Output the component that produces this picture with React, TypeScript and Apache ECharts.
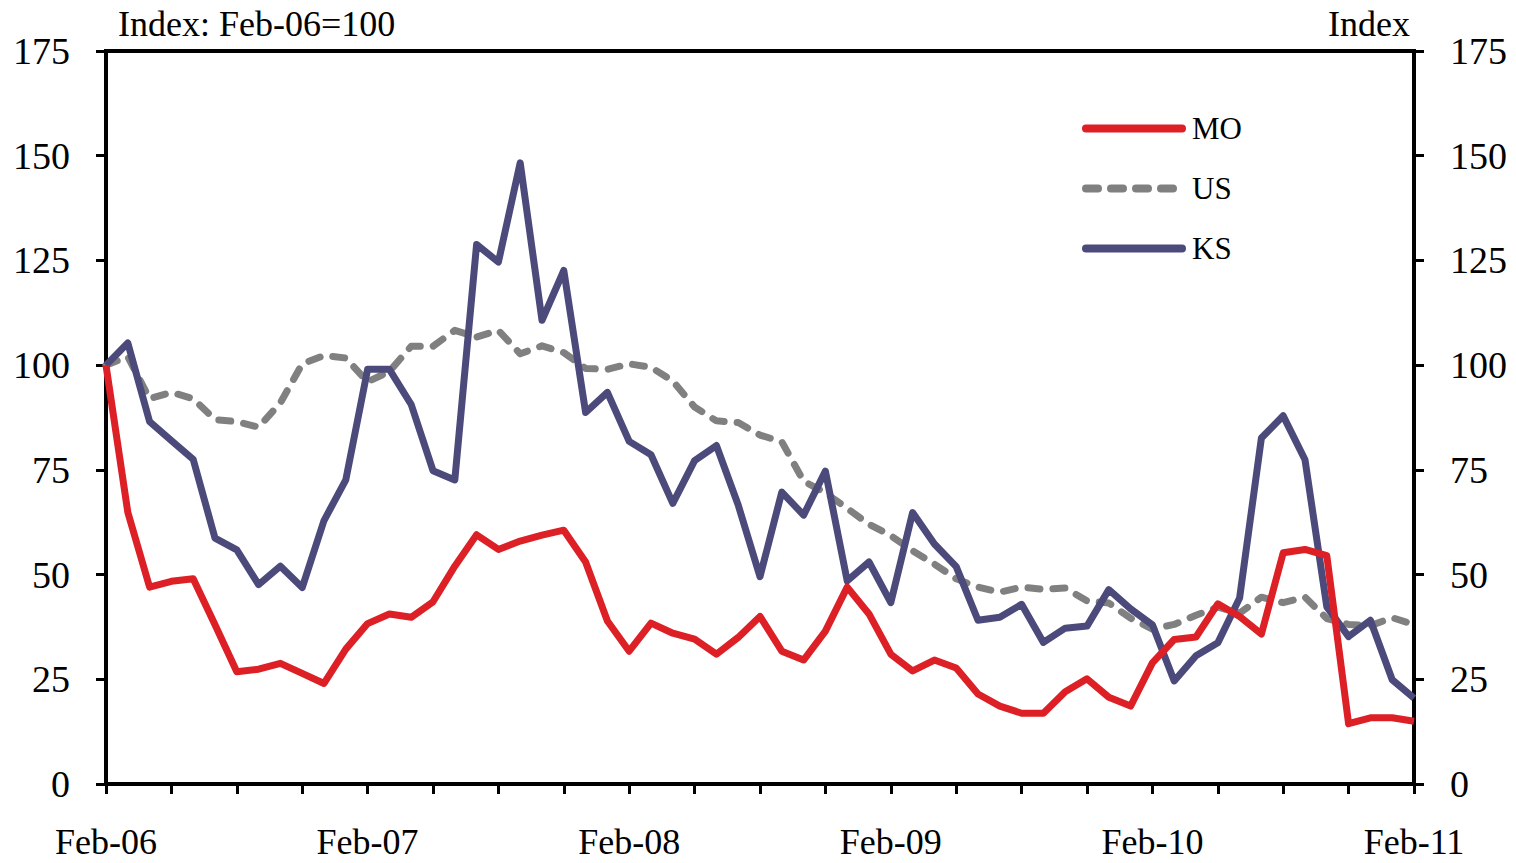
import React, { useEffect, useRef } from "react";
import * as echarts from "echarts";

const MONTHS = ["Jan", "Feb", "Mar", "Apr", "May", "Jun", "Jul", "Aug", "Sep", "Oct", "Nov", "Dec"];
const categories: string[] = [];
for (let i = 0; i < 61; i++) {
  const m = (1 + i) % 12;
  const y = 6 + Math.floor((1 + i) / 12);
  categories.push(`${MONTHS[m]}-${String(y).padStart(2, "0")}`);
}

const moValues = [
  100, 64.9, 47, 48.4, 49, 38, 26.8, 27.4, 28.8, 26.4, 24, 32.2,
  38.3, 40.6, 39.8, 43.5, 52, 59.5, 56, 58, 59.4, 60.6, 53, 38.9,
  31.7, 38.4, 36, 34.6, 31, 35, 40, 31.7, 29.6, 36.5, 47, 40.6,
  31, 27, 29.6, 27.7, 21.5, 18.6, 16.9, 16.9, 22, 25.1, 20.7, 18.6,
  28.9, 34.5, 35.1, 43, 40, 35.8, 55.2, 56, 54.5, 14.4, 15.8, 15.8,
  15,
];
const usValues = [
  100, 102, 92, 93.5, 92, 87, 86.5, 85.2, 91, 100.3, 102.3, 101.7,
  96, 98.5, 104.5, 104.5, 108.3, 106.7, 108.3, 102.7, 104.6, 103, 99.2, 99,
  100.3, 99.5, 96.2, 90, 86.7, 86.3, 83.3, 81.7, 72.3, 69.5, 65.8, 62,
  59.3, 55.7, 52.5, 49, 47, 45.8, 47, 46.5, 46.8, 43.7, 43.2, 39.6,
  37, 38.1, 40.3, 42.2, 40.8, 44.6, 43.3, 44.6, 39.5, 38.1, 37.8, 39.7,
  38.1,
];
const ksValues = [
  100, 105.3, 86.5, 82, 77.5, 58.7, 55.9, 47.6, 52, 46.9, 62.9, 72.6,
  99, 99, 90.6, 74.8, 72.6, 128.8, 124.6, 148.3, 110.7, 122.6, 88.7, 93.5,
  81.8, 78.6, 67, 77.2, 80.8, 66.6, 49.5, 69.7, 64.2, 74.7, 48.5, 53,
  43.3, 64.8, 57.3, 51.9, 39.1, 39.8, 42.9, 33.8, 37.2, 37.7, 46.4, 41.8,
  38, 24.6, 30.6, 33.7, 44.4, 82.6, 87.9, 77.4, 42.3, 35.2, 39.1, 24.9,
  20.5,
];

const seriesNames = ["MO", "US", "KS"];
const FONT = '"Liberation Serif", "Times New Roman", serif';

export default function App() {
  const ref = useRef<HTMLDivElement>(null);
  useEffect(() => {
    if (!ref.current) return;
    const chart = echarts.init(ref.current, null, { renderer: "svg" });
    const yAxisCommon = {
      type: "value" as const,
      min: 0,
      max: 175,
      interval: 25,
      splitLine: { show: false },
      axisLine: { show: true, lineStyle: { color: "#000", width: 4 } },
      axisTick: { show: true, length: 10, lineStyle: { color: "#000", width: 3 } },
      axisLabel: { color: "#000", fontFamily: FONT, fontSize: 38, margin: 36 },
    };
    chart.setOption({
      animation: false,
      backgroundColor: "#fff",
      grid: {
        left: 106,
        right: 102,
        top: 51,
        bottom: 79,
        show: true,
        borderColor: "#000",
        borderWidth: 4,
        backgroundColor: "transparent",
      },
      legend: {
        data: seriesNames,
        orient: "vertical",
        left: 1077,
        top: 108,
        itemWidth: 96,
        itemHeight: 16,
        itemGap: 29,
        itemStyle: { opacity: 0 },
        lineStyle: { width: 8, cap: "round" },
        textStyle: { color: "#000", fontFamily: FONT, fontSize: 31, padding: [8, 0, 0, 5] },
        selectedMode: false,
      },
      xAxis: {
        type: "category",
        data: categories,
        boundaryGap: false,
        axisLine: { show: true, lineStyle: { color: "#000", width: 4 } },
        axisTick: {
          show: true,
          length: 10,
          interval: (i: number) => i % 3 === 0,
          lineStyle: { color: "#000", width: 3 },
        },
        axisLabel: {
          color: "#000",
          fontFamily: FONT,
          fontSize: 36,
          lineHeight: 32,
          margin: 42,
          interval: (i: number) => i % 12 === 0,
          showMaxLabel: true,
        },
        splitLine: { show: false },
      },
      yAxis: [
        { ...yAxisCommon, position: "left" },
        { ...yAxisCommon, position: "right" },
      ],
      graphic: [
        {
          type: "text",
          left: 118,
          top: 6,
          style: { text: "Index: Feb-06=100", font: `36px ${FONT}`, fill: "#000" },
        },
        {
          type: "text",
          right: 106,
          top: 6,
          style: { text: "Index", font: `36px ${FONT}`, fill: "#000" },
        },
      ],
      series: [
        {
          name: "US",
          type: "line",
          data: usValues,
          symbol: "none",
          lineStyle: { color: "#808080", width: 7, type: [12, 13], cap: "round", join: "round" },
          itemStyle: { color: "#808080" },
          z: 2,
        },
        {
          name: "KS",
          type: "line",
          data: ksValues,
          symbol: "none",
          lineStyle: { color: "#4B4A7B", width: 7, join: "round" },
          itemStyle: { color: "#4B4A7B" },
          z: 3,
        },
        {
          name: "MO",
          type: "line",
          data: moValues,
          symbol: "none",
          lineStyle: { color: "#DD1F26", width: 7, join: "round" },
          itemStyle: { color: "#DD1F26" },
          z: 4,
        },
      ],
    });
    return () => chart.dispose();
  }, []);
  return (
    <div
      ref={ref}
      style={{ position: "fixed", left: 0, top: 0, width: 1516, height: 863, background: "#fff" }}
    />
  );
}
